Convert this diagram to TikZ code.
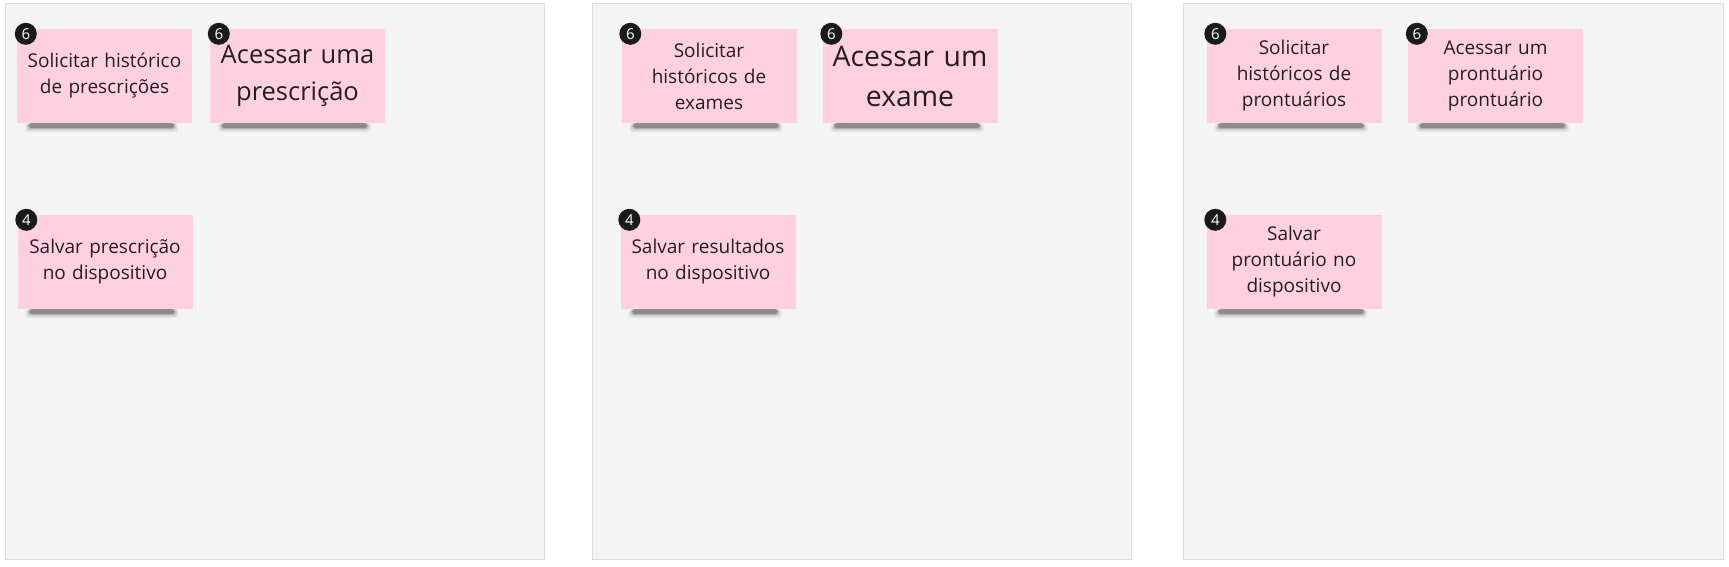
\documentclass[tikz,border=0pt]{standalone}
\usepackage{fontspec}
\setmainfont{Open Sans}
\usetikzlibrary{positioning}

\definecolor{panelgray}{RGB}{244,244,244}
\definecolor{panelline}{RGB}{222,222,222}
\definecolor{notepink}{RGB}{255,208,224}
\definecolor{badgeblack}{RGB}{26,26,26}
\definecolor{textdark}{RGB}{36,30,36}

\tikzset{
  panel/.style={fill=panelgray, draw=panelline, line width=1pt},
  note/.style={fill=notepink, minimum width=175pt, minimum height=94pt, inner sep=0pt,
    text width=172pt, align=center, text=textdark, font=\fontsize{19}{26}\selectfont},
  bignote/.style={note, font=\fontsize{25.5}{37}\selectfont},
  hugenote/.style={note, font=\fontsize{28.3}{40}\selectfont},
  badge/.style={circle, fill=badgeblack, minimum size=22pt, inner sep=0pt, text=white,
    font=\fontsize{15}{15}\selectfont},
}

% soft shadow under a sticky note (y axis is flipped, so a positive yshift goes down)
\newcommand{\noteshadow}[1]{%
  \foreach \op/\sp in {0.05/4, 0.09/2.5, 0.14/1, 0.22/0}{
    \fill[black, opacity=\op, rounded corners=3pt]
      ([xshift=12pt-\sp pt]#1.south west) rectangle
      ([xshift=-18pt+\sp pt, yshift=5pt+\sp pt]#1.south east);
  }
}

\begin{document}
\begin{tikzpicture}[x=1pt,y=1pt,yscale=-1,xscale=1]
  \useasboundingbox (0,0) rectangle (1729,567);

  %Panels
  \draw[panel] (5,4) rectangle (544,559);
  \draw[panel] (592,4) rectangle (1131,559);
  \draw[panel] (1183,4) rectangle (1723,559);

  %Notes: prescricoes
  \node[note] (presc1) at (104.5,76) {Solicitar histórico\\de prescrições};
  \node[bignote] (presc2) at (297.5,76) {Acessar uma\\prescrição};
  \node[note] (presc3) at (105,262) {Salvar prescrição\\no dispositivo};

  %Notes: exames
  \node[note] (exam1) at (709,76) {Solicitar\\históricos de\\exames};
  \node[hugenote] (exam2) at (910,76) {Acessar um\\exame};
  \node[note] (exam3) at (708,262) {Salvar resultados\\no dispositivo};

  %Notes: prontuarios
  \node[note] (pront1) at (1294,76) {Solicitar\\históricos de\\prontuários};
  \node[note] (pront2) at (1495.5,76) {Acessar um\\prontuário\\prontuário};
  \node[note] (pront3) at (1294,262) {Salvar\\prontuário no\\dispositivo};

  %Shadows
  \foreach \n in {presc1,presc2,presc3,exam1,exam2,exam3,pront1,pront2,pront3}{
    \noteshadow{\n}
  }

  %Badges
  \node[badge] (bpresc1) at ([xshift=9pt, yshift=5pt]presc1.north west) {6};
  \node[badge] (bpresc2) at ([xshift=9pt, yshift=5pt]presc2.north west) {6};
  \node[badge] (bpresc3) at ([xshift=9pt, yshift=5pt]presc3.north west) {4};
  \node[badge] (bexam1) at ([xshift=9pt, yshift=5pt]exam1.north west) {6};
  \node[badge] (bexam2) at ([xshift=9pt, yshift=5pt]exam2.north west) {6};
  \node[badge] (bexam3) at ([xshift=9pt, yshift=5pt]exam3.north west) {4};
  \node[badge] (bpront1) at ([xshift=9pt, yshift=5pt]pront1.north west) {6};
  \node[badge] (bpront2) at ([xshift=9pt, yshift=5pt]pront2.north west) {6};
  \node[badge] (bpront3) at ([xshift=9pt, yshift=5pt]pront3.north west) {4};
\end{tikzpicture}
\end{document}
